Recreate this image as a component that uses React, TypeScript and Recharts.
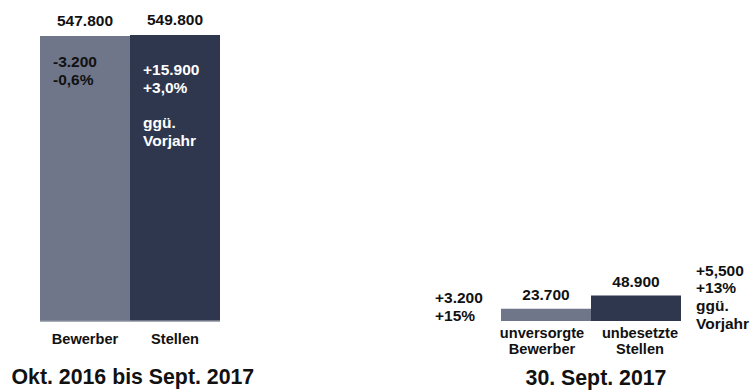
import { BarChart, Bar, XAxis, YAxis, Cell, LabelList } from "recharts";

const FONT = '"Liberation Sans", Arial, sans-serif';

// Okt. 2016 bis Sept. 2017
const yearCategories = ["Bewerber", "Stellen"];
const yearValues = [547800, 549800];
const yearChanges = [
  ["-3.200", "-0,6%"],
  ["+15.900", "+3,0%", "", "ggü.", "Vorjahr"],
];

// 30. Sept. 2017
const dayCategories = ["unversorgte\nBewerber", "unbesetzte\nStellen"];
const dayValues = [23700, 48900];
const dayChanges = [
  ["+3.200", "+15%"],
  ["+5,500", "+13%", "ggü.", "Vorjahr"],
];

const titles = ["Okt. 2016 bis Sept. 2017", "30. Sept. 2017"];

const colors = ["#6f7689", "#2f374e"];
const yMax = 549800;

const fmt = (v: number) => String(v).replace(/\B(?=(\d{3})+(?!\d))/g, ".");

const yearData = yearCategories.map((name, i) => ({ name, value: yearValues[i] }));
const dayData = dayCategories.map((name, i) => ({ name, value: dayValues[i] }));

function Lines({ x, y, lines, fill, anchor = "start" }: any) {
  return (
    <text x={x} y={y} fill={fill} fontFamily={FONT} fontSize={15.5} fontWeight="bold" textAnchor={anchor}>
      {lines.map((l: string, i: number) => (
        <tspan key={i} x={x} y={y + i * 17.8}>
          {l || " "}
        </tspan>
      ))}
    </text>
  );
}

const catTick = (props: any) => {
  const { x, y, payload, index } = props;
  const parts = String(payload.value).split("\n");
  const twoLine = parts.length > 1;
  const first = twoLine ? 17 : 23.3;
  // two-line labels sit a little apart from the bar centres
  const cx = twoLine ? x + (index === 0 ? -4 : 4) : x;
  return (
    <text x={cx} y={y} fill="#111" fontFamily={FONT} fontSize={14.6} fontWeight="bold" textAnchor="middle">
      {parts.map((p, i) => (
        <tspan key={i} x={cx} y={y + first + i * 16}>
          {p}
        </tspan>
      ))}
    </text>
  );
};

export default function App() {
  return (
    <div style={{ position: "absolute", left: 0, top: 0, width: 753, height: 390, background: "#fff" }}>
      <div style={{ position: "absolute", left: 0, top: 0 }}>
        <BarChart
          width={260}
          height={390}
          data={yearData}
          margin={{ top: 35, right: 40, bottom: 39, left: 40 }}
          barCategoryGap={0}
          barGap={0}
        >
          <XAxis
            dataKey="name"
            height={30}
            tickSize={0}
            tickMargin={0}
            tickLine={false}
            axisLine={{ stroke: "#8a8f9c", strokeWidth: 1.5 }}
            tick={catTick}
            interval={0}
          />
          <YAxis hide domain={[0, yMax]} />
          <Bar dataKey="value" isAnimationActive={false}>
            {yearData.map((_, i) => (
              <Cell key={i} fill={colors[i]} />
            ))}
            <LabelList
              dataKey="value"
              content={(p: any) => (
                <text
                  x={p.x + p.width / 2}
                  y={p.y - 10}
                  fill="#111"
                  fontFamily={FONT}
                  fontSize={15.5}
                  fontWeight="bold"
                  textAnchor="middle"
                >
                  {fmt(p.value)}
                </text>
              )}
            />
            <LabelList
              dataKey="value"
              content={(p: any) => (
                <Lines
                  x={p.x + 13}
                  y={p.y + (p.index === 0 ? 31 : 40)}
                  lines={yearChanges[p.index]}
                  fill={p.index === 0 ? "#111" : "#fff"}
                />
              )}
            />
          </Bar>
        </BarChart>
      </div>
      <div style={{ position: "absolute", left: 420, top: 0 }}>
        <BarChart
          width={333}
          height={390}
          data={dayData}
          margin={{ top: 35, right: 72, bottom: 39, left: 81 }}
          barCategoryGap={0}
          barGap={0}
        >
          <XAxis
            dataKey="name"
            height={30}
            tickSize={0}
            tickMargin={0}
            tickLine={false}
            axisLine={false}
            tick={catTick}
            interval={0}
          />
          <YAxis hide domain={[0, yMax]} />
          <Bar dataKey="value" isAnimationActive={false}>
            {dayData.map((_, i) => (
              <Cell key={i} fill={colors[i]} />
            ))}
            <LabelList
              dataKey="value"
              content={(p: any) => (
                <text
                  x={p.x + p.width / 2}
                  y={p.y - 8.5}
                  fill="#111"
                  fontFamily={FONT}
                  fontSize={15.5}
                  fontWeight="bold"
                  textAnchor="middle"
                >
                  {fmt(p.value)}
                </text>
              )}
            />
            <LabelList
              dataKey="value"
              content={(p: any) =>
                p.index === 0 ? (
                  <Lines x={p.x - 66} y={p.y - 5.7} lines={dayChanges[0]} fill="#111" />
                ) : (
                  <Lines x={p.x + p.width + 15} y={p.y - 20} lines={dayChanges[1]} fill="#111" />
                )
              }
            />
          </Bar>
        </BarChart>
      </div>
      <svg width={753} height={390} style={{ position: "absolute", left: 0, top: 0, pointerEvents: "none" }}>
        <text x={11.5} y={384} fill="#111" fontFamily={FONT} fontSize={21.3} fontWeight="bold">
          {titles[0]}
        </text>
        <text x={596} y={385} fill="#111" fontFamily={FONT} fontSize={21.3} fontWeight="bold" textAnchor="middle">
          {titles[1]}
        </text>
      </svg>
    </div>
  );
}
